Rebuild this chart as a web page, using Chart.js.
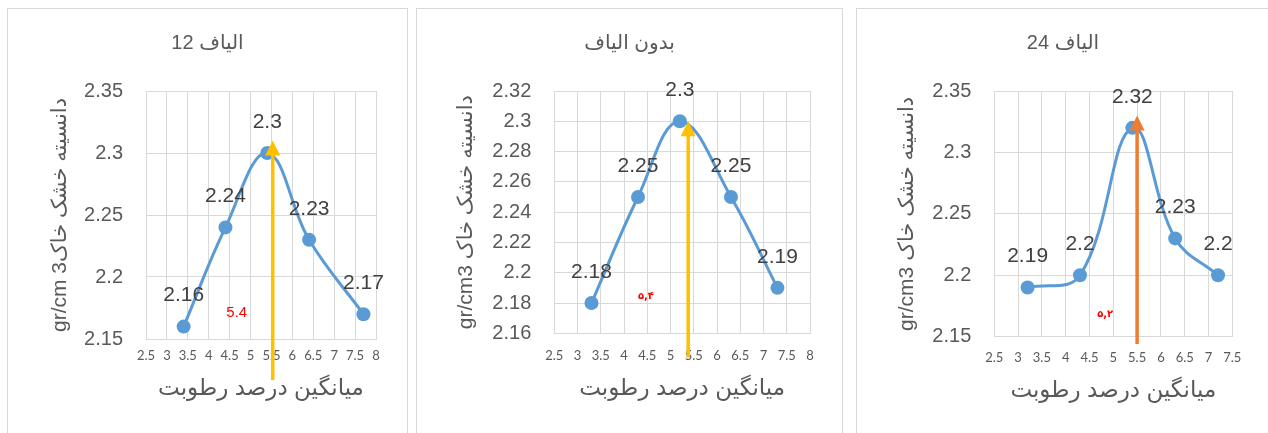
<!DOCTYPE html>
<html>
<head>
<meta charset="utf-8">
<script src="https://cdn.jsdelivr.net/npm/chart.js@4.4.1/dist/chart.umd.min.js"></script>
<style>
  body { margin: 0; background: #fff; width: 1268px; height: 433px; overflow: hidden; position: relative; }
  .panel { position: absolute; top: 8px; height: 440px; border: 1px solid #d9d9d9; background: #fff; }
  .panel canvas { display: block; }
</style>
</head>
<body>
<div class="panel" style="left:7px;width:399px"><canvas id="chart12" dir="rtl" width="399" height="424"></canvas></div>
<div class="panel" style="left:416px;width:425px"><canvas id="chart0" dir="rtl" width="425" height="424"></canvas></div>
<div class="panel" style="left:856px;width:412px"><canvas id="chart24" dir="rtl" width="412" height="424"></canvas></div>
<script>
// panels left to right: 12 fibres, no fibres, 24 fibres
const moisture12 = [3.4, 4.4, 5.4, 6.4, 7.7];
const density12 = [2.16, 2.24, 2.3, 2.23, 2.17];
const moisture0 = [3.3, 4.3, 5.2, 6.3, 7.3];
const density0 = [2.18, 2.25, 2.3, 2.25, 2.19];
const moisture24 = [3.2, 4.3, 5.4, 6.3, 7.2];
const density24 = [2.19, 2.2, 2.32, 2.23, 2.2];

const titles = ['الياف 12', 'بدون الياف', 'الياف 24'];
const yTitles = ['دانسیته خشک خاکgr/cm 3', 'دانسیته خشک خاک gr/cm3', 'دانسیته خشک خاک gr/cm3'];
const xTitle = 'میانگین درصد رطوبت';

const xMin = [2.5, 2.5, 2.5];
const xMax = [8, 8, 7.5];
const xStep = 0.5;
const yMin = [2.15, 2.16, 2.15];
const yMax = [2.35, 2.32, 2.35];
const yStep = [0.05, 0.02, 0.05];

// optimum moisture arrows and the small red notes
const arrowX = [5.53, 5.38, 5.5];
const arrowTop = [2.31, 2.30, 2.33];
const arrowBase = [2.117, 2.144, 2.144];
const notes = ['5.4', '۵,۴', '۵,۲'];
const noteX = [4.67, 4.47, 4.83];
const noteY = [2.171, 2.1846, 2.1685];

const FONT = '"Liberation Sans", "DejaVu Sans", sans-serif';
const GRAY = '#595959';
const GRID = '#d9d9d9';

const fmt = v => String(+(+v).toFixed(2));

// layout of each panel (canvas px)
const frames = [
    { id: 'chart12', x: moisture12, y: density12, padL: 31, padR: 31, left: 138, bottom: 330, yTitlePad: 8.4, xTickPad: 9, xTitlePad: 31, arrow: '#ffc000', noteFont: '15px ' + FONT },
    { id: 'chart0', x: moisture0, y: density0, padL: 32, padR: 32, left: 137.3, bottom: 324.3, yTitlePad: 5, xTickPad: 14.6, xTitlePad: 31, arrow: '#ffc000', noteFont: 'bold 10px "DejaVu Sans"' },
    { id: 'chart24', x: moisture24, y: density24, padL: 36.7, padR: 36.7, left: 137.3, bottom: 327.7, yTitlePad: 0.5, xTickPad: 13.8, xTitlePad: 29, arrow: '#ed7d31', noteFont: 'bold 10px "DejaVu Sans"' }
];

const markers = {
    id: 'markers',
    afterDatasetsDraw(chart) {
        const ctx = chart.ctx;
        const ds = chart.data.datasets[0].data;
        ctx.save();
        ctx.font = '21px ' + FONT;
        ctx.fillStyle = '#404040';
        ctx.textAlign = 'center';
        ctx.textBaseline = 'middle';
        chart.getDatasetMeta(0).data.forEach((p, i) => {
            ctx.fillText(fmt(ds[i].y), p.x, p.y - 31);
        });
        ctx.restore();
    },
    afterDraw(chart, args, o) {
        const ctx = chart.ctx;
        const sx = chart.scales.x, sy = chart.scales.y;
        const ax = sx.getPixelForValue(o.arrowX);
        const top = sy.getPixelForValue(o.arrowTop);
        const base = sy.getPixelForValue(o.arrowBase);
        const head = 15;
        ctx.save();
        ctx.strokeStyle = o.color;
        ctx.fillStyle = o.color;
        ctx.lineWidth = 3.5;
        ctx.beginPath();
        ctx.moveTo(ax, base);
        ctx.lineTo(ax, top + head - 1);
        ctx.stroke();
        ctx.beginPath();
        ctx.moveTo(ax, top);
        ctx.lineTo(ax - 7.5, top + head);
        ctx.lineTo(ax + 7.5, top + head);
        ctx.closePath();
        ctx.fill();
        // red note
        ctx.font = o.noteFont;
        ctx.fillStyle = '#ff0000';
        ctx.textAlign = 'center';
        ctx.textBaseline = 'middle';
        ctx.fillText(o.note, sx.getPixelForValue(o.noteX), sy.getPixelForValue(o.noteY));
        ctx.restore();
    }
};

frames.forEach((f, k) => {
    const canvas = document.getElementById(f.id);
    const H = canvas.height;
    new Chart(canvas, {
        type: 'scatter',
        data: {
            datasets: [{
                data: f.x.map((x, i) => ({ x: x, y: f.y[i] })),
                showLine: true,
                tension: 0.4,
                borderColor: '#5b9bd5',
                borderWidth: 3,
                pointRadius: 7,
                pointHoverRadius: 7,
                pointBackgroundColor: '#5b9bd5',
                pointBorderWidth: 0
            }]
        },
        options: {
            responsive: false,
            animation: false,
            layout: { padding: { left: f.padL, right: f.padR, top: 0, bottom: 0 } },
            plugins: {
                legend: { display: false },
                tooltip: { enabled: false },
                title: {
                    display: true,
                    text: titles[k],
                    color: GRAY,
                    font: { family: FONT, size: 20, weight: 'normal' },
                    padding: { top: 22, bottom: 36 }
                },
                markers: {
                    arrowX: arrowX[k], arrowTop: arrowTop[k], arrowBase: arrowBase[k],
                    color: f.arrow, note: notes[k], noteX: noteX[k], noteY: noteY[k], noteFont: f.noteFont
                }
            },
            scales: {
                x: {
                    type: 'linear',
                    min: xMin[k],
                    max: xMax[k],
                    afterFit: s => { s.height = H - f.bottom; },
                    ticks: {
                        stepSize: xStep,
                        color: GRAY,
                        padding: f.xTickPad,
                        maxRotation: 0,
                        autoSkip: false,
                        font: { family: 'Lato', size: 13 },
                        callback: v => fmt(v)
                    },
                    grid: { color: GRID, lineWidth: 1, drawTicks: false },
                    border: { color: GRID },
                    title: {
                        display: true,
                        text: xTitle,
                        color: GRAY,
                        font: { family: FONT, size: 23 },
                        padding: { top: 0, bottom: f.xTitlePad }
                    }
                },
                y: {
                    type: 'linear',
                    min: yMin[k],
                    max: yMax[k],
                    afterFit: s => { s.width = f.left - f.padL; },
                    ticks: {
                        stepSize: yStep[k],
                        color: GRAY,
                        padding: 23,
                        font: { family: FONT, size: 20 },
                        callback: v => fmt(v)
                    },
                    grid: { color: GRID, lineWidth: 1, drawTicks: false },
                    border: { color: GRID },
                    title: {
                        display: true,
                        text: yTitles[k],
                        color: GRAY,
                        font: { family: FONT, size: 21 },
                        padding: { top: f.yTitlePad, bottom: 0 }
                    }
                }
            }
        },
        plugins: [markers]
    });
});
</script>
</body>
</html>
